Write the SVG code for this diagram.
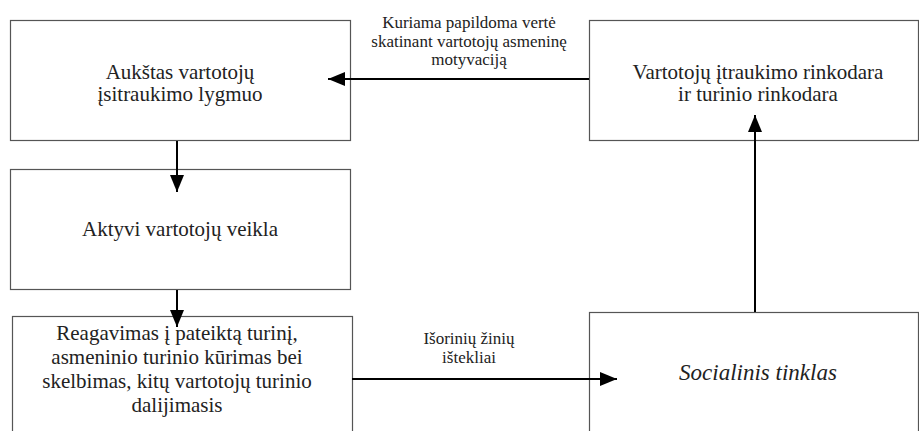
<svg xmlns="http://www.w3.org/2000/svg" width="919" height="431" viewBox="0 0 919 431">
<style>
.box{fill:#fff;stroke:#555;stroke-width:1.2}
text{font-family:"Liberation Serif","Times New Roman",serif;fill:#222;text-anchor:middle}
.t{font-size:21px}
.it{font-style:italic;font-size:23px}
.lbl{font-size:17px}
.c{stroke:#000;stroke-width:2;fill:none}
</style>
<defs>
<marker id="ah" markerUnits="userSpaceOnUse" markerWidth="18" markerHeight="14" refX="17" refY="7" orient="auto">
<path d="M0,0 L17,7 L0,14 Z" fill="#000"/>
</marker>
</defs>
<rect width="919" height="431" fill="#fff"/>
<g id="n1">
<rect class="box" x="10.5" y="20.5" width="340" height="120"/>
<text class="t" x="180" y="79">Aukštas vartotojų</text>
<text class="t" x="180" y="101">įsitraukimo lygmuo</text>
</g>
<g id="n2">
<rect class="box" x="589.5" y="20.5" width="329" height="120"/>
<text class="t" x="758" y="79">Vartotojų įtraukimo rinkodara</text>
<text class="t" x="758" y="101">ir turinio rinkodara</text>
</g>
<g id="n3">
<rect class="box" x="10.5" y="169.5" width="340" height="120"/>
<text class="t" x="180" y="236">Aktyvi vartotojų veikla</text>
</g>
<g id="n4">
<rect class="box" x="12.5" y="316.5" width="340" height="130"/>
<text class="t" x="177" y="340">Reagavimas į pateiktą turinį,</text>
<text class="t" x="177" y="364">asmeninio turinio kūrimas bei</text>
<text class="t" x="177" y="388">skelbimas, kitų vartotojų turinio</text>
<text class="t" x="177" y="412">dalijimasis</text>
</g>
<g id="n5">
<rect class="box" x="589.5" y="312.5" width="329" height="130"/>
<text class="it" x="758" y="380">Socialinis tinklas</text>
</g>
<g id="connectors">
<line class="c" x1="589" y1="79" x2="328" y2="79" marker-end="url(#ah)"/>
<line class="c" x1="177" y1="141" x2="177" y2="192" marker-end="url(#ah)"/>
<line class="c" x1="177" y1="290" x2="177" y2="327" marker-end="url(#ah)"/>
<line class="c" x1="352" y1="379" x2="617" y2="379" marker-end="url(#ah)"/>
<line class="c" x1="755" y1="312" x2="755" y2="115" marker-end="url(#ah)"/>
<text class="lbl" x="469" y="28">Kuriama papildoma vertė</text>
<text class="lbl" x="469" y="46.5">skatinant vartotojų asmeninę</text>
<text class="lbl" x="469" y="65">motyvaciją</text>
<text class="lbl" x="469" y="344">Išorinių žinių</text>
<text class="lbl" x="469" y="362.5">ištekliai</text>
</g>
</svg>
